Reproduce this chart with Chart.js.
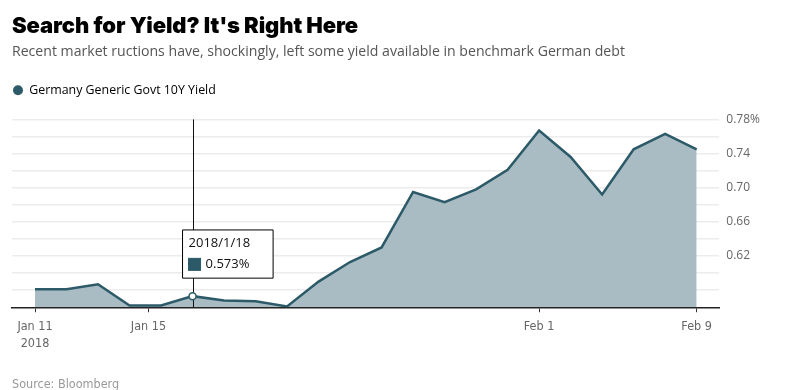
<!DOCTYPE html>
<html>
<head>
<meta charset="utf-8">
<script src="https://cdn.jsdelivr.net/npm/chart.js@4.4.1/dist/chart.umd.min.js"></script>
<style>
    html, body { margin: 0; padding: 0; background: #fff; }
    #wrap { position: relative; width: 800px; height: 390px; overflow: hidden; }
    #title { position: absolute; left: 12px; top: 12px; font: 900 22px "Inter", "Lato"; color: #000; letter-spacing: -0.1px; white-space: nowrap; }
    #sub { position: absolute; left: 12px; top: 41px; font: 14.1px "Open Sans"; color: #555; white-space: nowrap; }
    #src { position: absolute; left: 12px; top: 376px; font: 12.5px "Liberation Sans Narrow", "DejaVu Sans Condensed"; color: #999; }
    canvas { position: absolute; left: 0; top: 0; }
</style>
</head>
<body>
<div id="wrap">
    <canvas id="chart" width="800" height="390"></canvas>
    <div id="title">Search for Yield? It's Right Here</div>
    <div id="sub">Recent market ructions have, shockingly, left some yield available in benchmark German debt</div>
    <div id="src">Source: Bloomberg</div>
</div>
<script>
// trading days shown on the chart
const dates = ['2018/1/11', '2018/1/12', '2018/1/15', '2018/1/16', '2018/1/17', '2018/1/18', '2018/1/19',
    '2018/1/22', '2018/1/23', '2018/1/24', '2018/1/25', '2018/1/26', '2018/1/29', '2018/1/30', '2018/1/31',
    '2018/2/1', '2018/2/2', '2018/2/5', '2018/2/6', '2018/2/7', '2018/2/8', '2018/2/9'];
// Germany 10Y yield, %
const yields = [0.581, 0.581, 0.587, 0.562, 0.562, 0.573, 0.568, 0.567, 0.561, 0.590, 0.613,
    0.630, 0.695, 0.683, 0.698, 0.721, 0.767, 0.736, 0.692, 0.745, 0.763, 0.745];

// x ticks (position in point index) and their labels
const xTickPos = [0, 3.6, 16, 21];
const xTickLabels = [['Jan 11', '2018'], 'Jan 15', 'Feb 1', 'Feb 9'];

// y grid lines and labelled ticks
const yGridValues = [0.58, 0.60, 0.62, 0.64, 0.66, 0.68, 0.70, 0.72, 0.74, 0.76, 0.78];
const yTickValues = [0.62, 0.66, 0.70, 0.74, 0.78];
const yTickLabels = ['0.62', '0.66', '0.70', '0.74', '0.78%'];

const highlightIndex = 5;
const lineColor = '#2d5a68';

Chart.Tooltip.positioners.box = function (items) {
    if (!items.length) return false;
    let el = items[0].element;
    return { x: el.x - 10, y: el.y - 18, xAlign: 'left', yAlign: 'bottom' };
};

// vertical line under the hovered point
const crosshair = {
    id: 'crosshair',
    beforeDatasetDraw(chart) {
        let active = chart.tooltip.getActiveElements();
        if (!active.length) return;
        let x = active[0].element.x;
        let ctx = chart.ctx;
        ctx.save();
        ctx.strokeStyle = '#111';
        ctx.lineWidth = 1;
        ctx.beginPath();
        ctx.moveTo(Math.round(x) + 0.5, chart.chartArea.top);
        ctx.lineTo(Math.round(x) + 0.5, chart.chartArea.bottom);
        ctx.stroke();
        ctx.restore();
    }
};

// extra room under the legend
const legendGap = {
    id: 'legendGap',
    beforeInit(chart) {
        let fit = chart.legend.fit;
        chart.legend.fit = function () {
            fit.bind(chart.legend)();
            this.height += 13;
        };
    }
};

let chart = new Chart(document.getElementById('chart'), {
    type: 'line',
    data: {
        datasets: [{
            label: 'Germany Generic Govt 10Y Yield',
            data: yields.map((v, i) => ({ x: i, y: v })),
            borderColor: lineColor,
            backgroundColor: '#a9bcc3',
            fill: 'start',
            borderWidth: 2.5,
            tension: 0,
            pointRadius: 0,
            pointHoverRadius: 3.5,
            pointHoverBackgroundColor: '#fff',
            pointHoverBorderColor: lineColor,
            pointHoverBorderWidth: 1.5
        }]
    },
    options: {
        responsive: false,
        animation: false,
        events: [],
        layout: { padding: { top: 83, left: 12, right: 33, bottom: 31 } },
        interaction: { mode: 'index', intersect: false },
        scales: {
            x: {
                type: 'linear',
                min: -0.73,
                max: 21.72,
                afterBuildTicks: (axis) => { axis.ticks = xTickPos.map(v => ({ value: v })); },
                grid: { drawOnChartArea: false, drawTicks: true, tickLength: 5, color: '#333', lineWidth: 1 },
                border: { display: true, color: '#222', width: 1.5 },
                ticks: {
                    autoSkip: false,
                    maxRotation: 0,
                    padding: 6.5,
                    color: '#666',
                    font: { family: '"Liberation Sans Narrow", "DejaVu Sans Condensed"', size: 12.5, lineHeight: 1.35 },
                    callback: (v, i) => xTickLabels[i]
                }
            },
            y: {
                position: 'right',
                min: 0.56,
                max: 0.78,
                afterBuildTicks: (axis) => { axis.ticks = yGridValues.map(v => ({ value: v })); },
                grid: { color: '#ececec', lineWidth: 1.5, drawTicks: false },
                border: { display: false },
                ticks: {
                    padding: 7,
                    color: '#666',
                    font: { family: '"Open Sans"', size: 12 },
                    callback: (v) => {
                        let i = yTickValues.findIndex(t => Math.abs(t - v) < 1e-9);
                        return i < 0 ? '' : yTickLabels[i];
                    }
                }
            }
        },
        plugins: {
            legend: {
                position: 'top',
                align: 'start',
                labels: {
                    usePointStyle: true,
                    pointStyle: 'circle',
                    pointStyleWidth: 10,
                    boxHeight: 7.07,
                    padding: 1,
                    color: '#555',
                    font: { family: '"Open Sans"', size: 12.4 },
                    generateLabels: (c) => [{
                        text: c.data.datasets[0].label,
                        fillStyle: lineColor,
                        strokeStyle: lineColor,
                        lineWidth: 0,
                        pointStyle: 'circle',
                        datasetIndex: 0
                    }]
                }
            },
            tooltip: {
                position: 'box',
                backgroundColor: '#fff',
                borderColor: '#000',
                borderWidth: 1,
                cornerRadius: 0,
                caretSize: 0,
                caretPadding: 0,
                padding: { top: 6, bottom: 6, left: 6, right: 23 },
                titleColor: '#111',
                bodyColor: '#111',
                titleFont: { family: '"Open Sans"', size: 13, weight: 'normal' },
                bodyFont: { family: '"Open Sans"', size: 13 },
                titleMarginBottom: 5,
                boxWidth: 12,
                boxHeight: 12,
                boxPadding: 3,
                multiKeyBackground: lineColor,
                callbacks: {
                    title: (items) => dates[items[0].dataIndex],
                    label: (item) => item.parsed.y.toFixed(3) + '%',
                    labelColor: () => ({ borderColor: lineColor, backgroundColor: lineColor, borderWidth: 0 })
                }
            }
        }
    },
    plugins: [crosshair, legendGap]
});

let el = chart.getDatasetMeta(0).data[highlightIndex];
chart.setActiveElements([{ datasetIndex: 0, index: highlightIndex }]);
chart.tooltip.setActiveElements([{ datasetIndex: 0, index: highlightIndex }], { x: el.x, y: el.y });
chart.update();
</script>
</body>
</html>
